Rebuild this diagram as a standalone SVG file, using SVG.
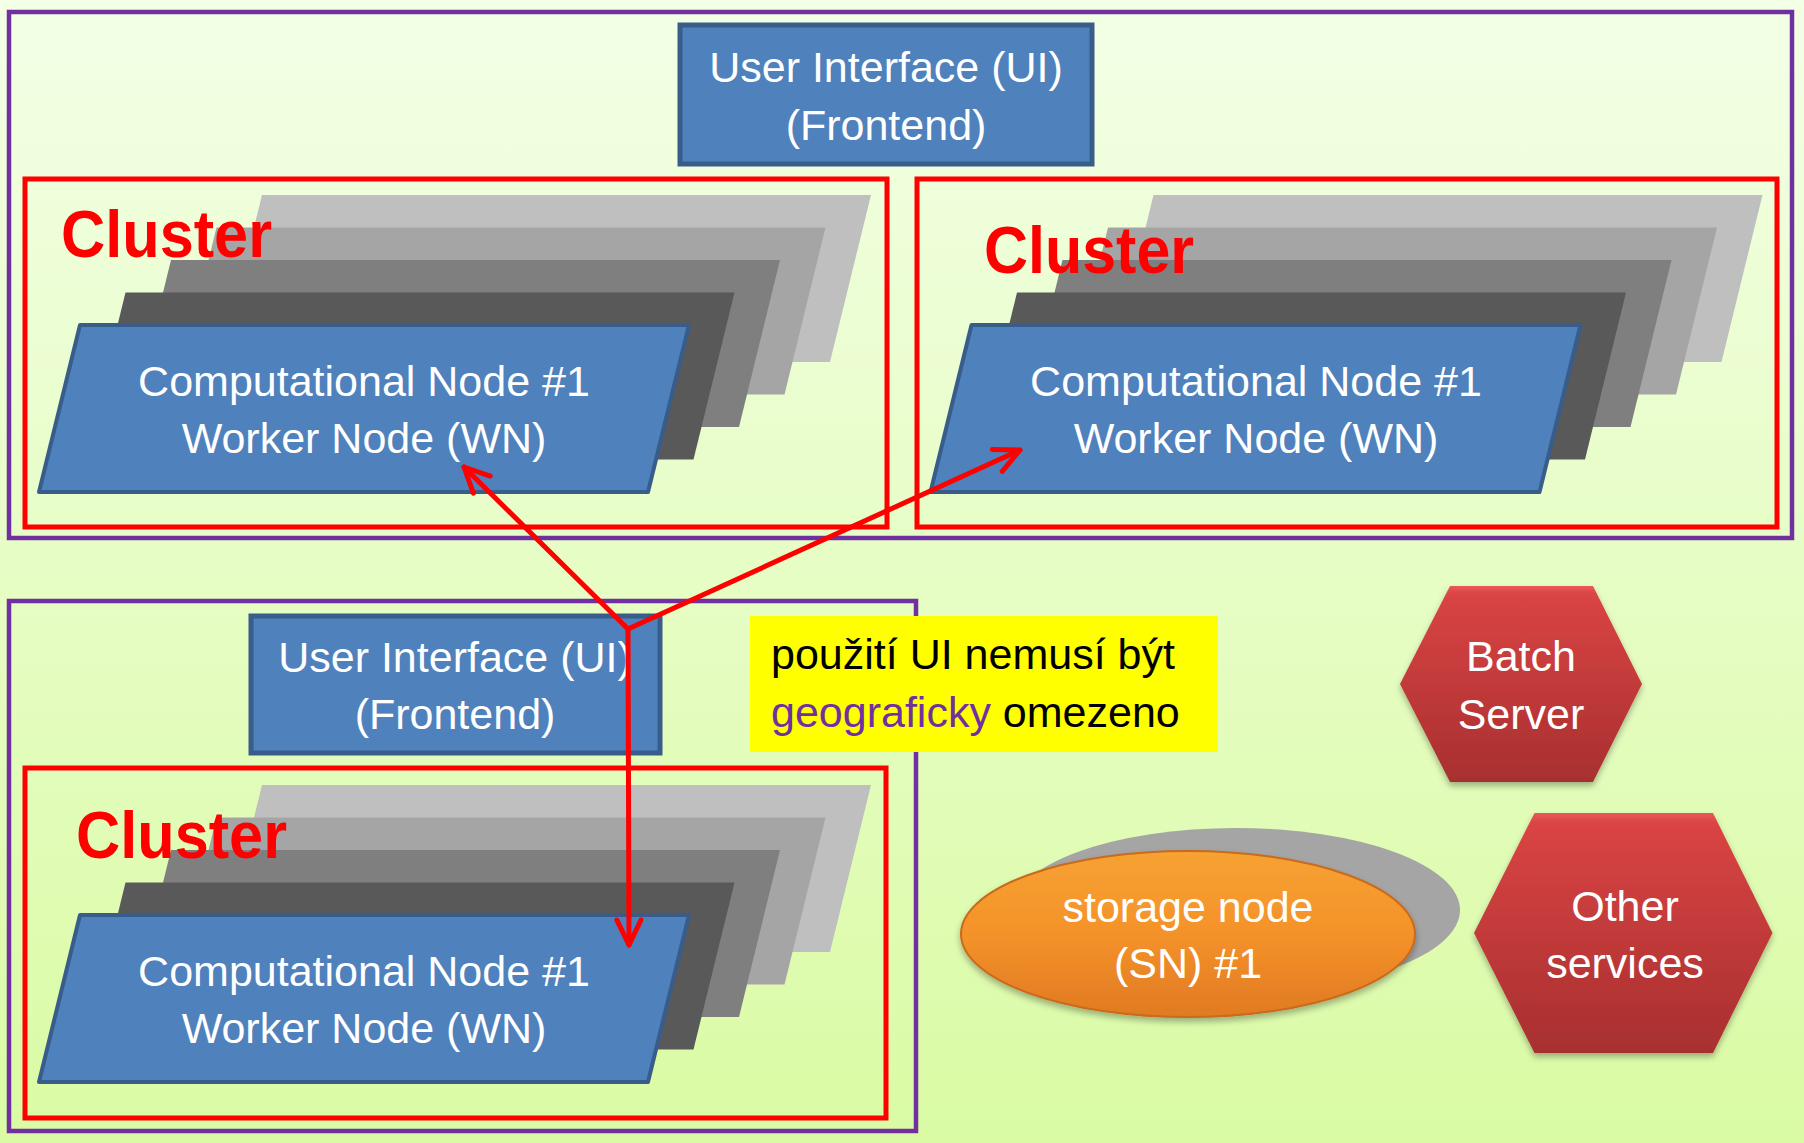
<svg xmlns="http://www.w3.org/2000/svg" xmlns:xlink="http://www.w3.org/1999/xlink" width="1804" height="1143" viewBox="0 0 1804 1143">
<defs>
<linearGradient id="bg" x1="0" y1="0" x2="0" y2="1">
<stop offset="0" stop-color="#F3FFE6"/>
<stop offset="1" stop-color="#DAFBA4"/>
</linearGradient>
<linearGradient id="hexFill" x1="0" y1="0" x2="0" y2="1">
<stop offset="0" stop-color="#EA5A5A"/>
<stop offset="0.04" stop-color="#DA4444"/>
<stop offset="1" stop-color="#A82F2F"/>
</linearGradient>
<linearGradient id="orangeFill" x1="0" y1="0" x2="0" y2="1">
<stop offset="0" stop-color="#F7A232"/>
<stop offset="0.5" stop-color="#F4922A"/>
<stop offset="1" stop-color="#E07A22"/>
</linearGradient>
<filter id="shadow" x="-10%" y="-10%" width="130%" height="130%">
<feDropShadow dx="0" dy="4" stdDeviation="3" flood-color="#000000" flood-opacity="0.3"/>
</filter>
<marker id="arrow" markerUnits="userSpaceOnUse" markerWidth="40" markerHeight="40" refX="0" refY="0" orient="auto" viewBox="-30 -20 40 40" overflow="visible">
<path d="M -25 -12 L 0 0 L -25 12" fill="none" stroke="#FF0000" stroke-width="5" stroke-linecap="round" stroke-linejoin="round"/>
</marker>
<g id="layers">
<polygon points="182,-130 791,-130 750,37 141,37" fill="#BFBFBF"/>
<polygon points="136.5,-97.5 745.5,-97.5 704.5,69.5 95.5,69.5" fill="#A5A5A5"/>
<polygon points="91,-65 700,-65 659,102 50,102" fill="#7F7F7F"/>
<polygon points="45.5,-32.5 654.5,-32.5 613.5,134.5 4.5,134.5" fill="#595959"/>
<polygon points="0,0 609,0 568,167 -41,167" fill="#4F81BD" stroke="#385D8A" stroke-width="4" stroke-linejoin="round"/>
</g>
</defs>
<style>
.wt{font-family:"Liberation Sans",Arial,sans-serif;font-size:43px;fill:#FFFFFF;text-anchor:middle}
.bt{font-family:"Liberation Sans",Arial,sans-serif;font-size:43px;fill:#000000}
.cl{font-family:"Liberation Sans",Arial,sans-serif;font-size:66px;font-weight:bold;fill:#FF0000}
.purple{fill:none;stroke:#7030A0;stroke-width:4.5}
.cluster{fill:none;stroke:#FF0000;stroke-width:5}
.ui{fill:#4F81BD;stroke:#385D8A;stroke-width:5}
.hex{fill:url(#hexFill)}
.conn{fill:none;stroke:#FF0000;stroke-width:5;stroke-linecap:round;stroke-linejoin:round}
</style>
<rect x="0" y="0" width="1804" height="1143" fill="url(#bg)"/>

<g id="site-top">
<rect class="purple" x="9" y="12" width="1783" height="526"/>
</g>
<g id="site-bottom">
<rect class="purple" x="9" y="601" width="907" height="530"/>
</g>

<g id="ui-top">
<rect class="ui" x="680" y="25" width="412" height="139"/>
<text class="wt" x="886" y="82">User Interface (UI)</text>
<text class="wt" x="886" y="139.5">(Frontend)</text>
</g>

<g id="cluster-top-left">
<rect class="cluster" x="25" y="179" width="862" height="348"/>
<use xlink:href="#layers" href="#layers" transform="translate(80,325)"/>
<text class="cl" x="61" y="257" textLength="211" lengthAdjust="spacingAndGlyphs">Cluster</text>
<text class="wt" x="364" y="396">Computational Node #1</text>
<text class="wt" x="364" y="453">Worker Node (WN)</text>
</g>

<g id="cluster-top-right">
<rect class="cluster" x="917" y="179" width="860" height="348"/>
<use xlink:href="#layers" href="#layers" transform="translate(971.5,325)"/>
<text class="cl" x="984" y="273" textLength="210" lengthAdjust="spacingAndGlyphs">Cluster</text>
<text class="wt" x="1256" y="396">Computational Node #1</text>
<text class="wt" x="1256" y="453">Worker Node (WN)</text>
</g>

<g id="ui-bottom">
<rect class="ui" x="251" y="616" width="409" height="137"/>
<text class="wt" x="455" y="671.5">User Interface (UI)</text>
<text class="wt" x="455" y="729">(Frontend)</text>
</g>

<g id="cluster-bottom">
<rect class="cluster" x="25" y="768" width="861" height="350"/>
<use xlink:href="#layers" href="#layers" transform="translate(80,915)"/>
<text class="cl" x="76" y="858" textLength="211" lengthAdjust="spacingAndGlyphs">Cluster</text>
<text class="wt" x="364" y="986">Computational Node #1</text>
<text class="wt" x="364" y="1043">Worker Node (WN)</text>
</g>

<g id="note">
<rect x="750" y="616" width="468" height="136" fill="#FFFF00"/>
<text class="bt" x="771" y="669">použití UI nemusí být</text>
<text class="bt" x="771" y="726.5"><tspan fill="#7030A0">geograficky</tspan> omezeno</text>
</g>

<g id="batch-server">
<polygon class="hex" filter="url(#shadow)" points="1450,586 1593,586 1642,684 1593,782 1450,782 1400,684"/>
<text class="wt" x="1521" y="671">Batch</text>
<text class="wt" x="1521" y="729">Server</text>
</g>

<g id="storage-node">
<ellipse cx="1236" cy="910" rx="224" ry="82" fill="#A5A5A5"/>
<ellipse cx="1188" cy="934" rx="227" ry="83" fill="url(#orangeFill)" stroke="#C96A1C" stroke-width="2" filter="url(#shadow)"/>
<text class="wt" x="1188" y="921.5">storage node</text>
<text class="wt" x="1188" y="978">(SN) #1</text>
</g>

<g id="other-services">
<polygon class="hex" filter="url(#shadow)" points="1534.5,813 1713,813 1772.5,933 1713,1053 1534.5,1053 1474,933"/>
<text class="wt" x="1625" y="921">Other</text>
<text class="wt" x="1625" y="978">services</text>
</g>

<g id="connectors">
<line class="conn" x1="628" y1="629" x2="464" y2="467" marker-end="url(#arrow)"/>
<line class="conn" x1="628" y1="629" x2="1020" y2="450" marker-end="url(#arrow)"/>
<line class="conn" x1="628" y1="629" x2="629" y2="945" marker-end="url(#arrow)"/>
</g>
</svg>
